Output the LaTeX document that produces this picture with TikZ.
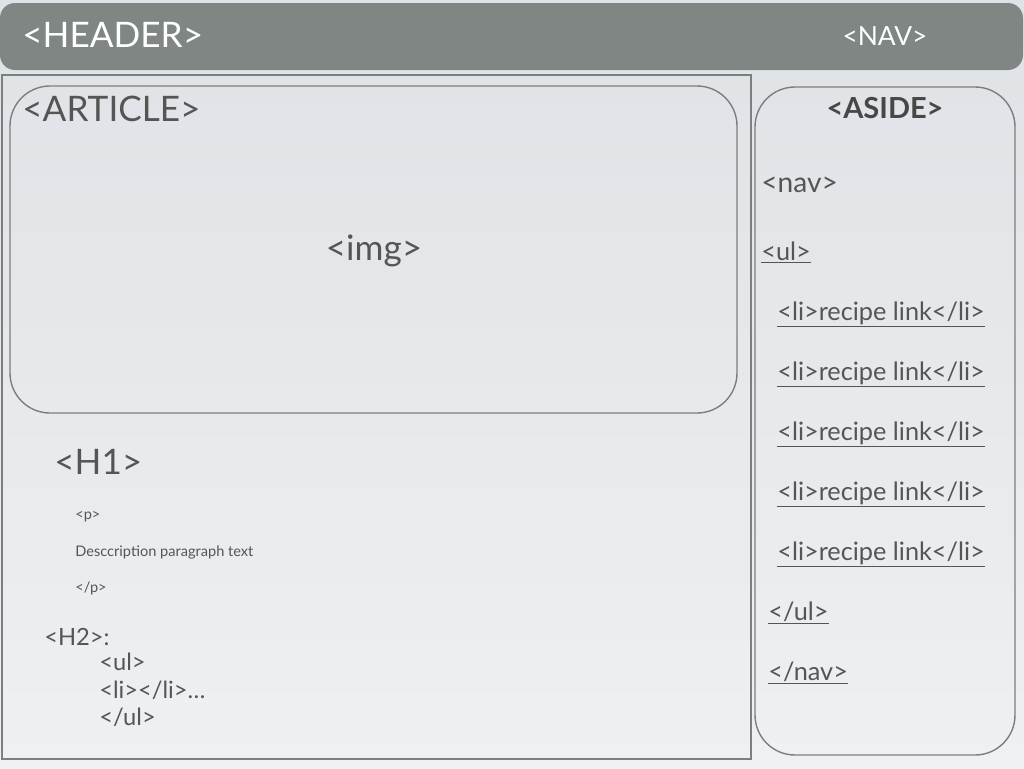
\documentclass[tikz,border=0pt]{standalone}
\usepackage{fontspec}
\setmainfont{Lato}
\definecolor{hdrgray}{HTML}{808683}
\definecolor{linegray}{HTML}{7B7F7D}
\definecolor{txtgray}{HTML}{555555}
\definecolor{bgtop}{HTML}{DFE2E6}
\definecolor{bgbot}{HTML}{EEF0F1}
\tikzset{
  lbl/.style={inner sep=0pt,text=txtgray,anchor=base west},
  huge/.style={font=\fontsize{20}{24}\selectfont},
  mid/.style={font=\fontsize{16}{19}\selectfont},
  lnk/.style={font=\fontsize{14.4}{17}\selectfont},
  small/.style={font=\fontsize{8.3}{10}\selectfont},
  lst/.style={font=\fontsize{13.5}{16}\selectfont}
}
\begin{document}
\begin{tikzpicture}[x=0.02cm,y=-0.02cm]
\shade[top color=bgtop,bottom color=bgbot] (0,0) rectangle (1024,768);
\useasboundingbox (0,0) rectangle (1024,768);

\fill[hdrgray,rounded corners=0.3cm] (0,3) rectangle (1023,70);
\node[lbl,huge,text=white] (header) at (22,47) {<HEADER>};
\node[lbl,font=\fontsize{15}{18}\selectfont,text=white,anchor=base] (navtitle) at (885,45) {<NAV>};

\draw[linegray,line width=1.2pt] (2,75) rectangle (751,759);
\draw[linegray,line width=0.8pt,rounded corners=0.8cm] (10,86) rectangle (737,413);
\node[lbl,huge] (art) at (22,121) {<ARTICLE>};
\node[lbl,huge,anchor=base] (img) at (374,260) {<img>};

\node[lbl,huge] (hone) at (54,474) {<H1>};
\node[lbl,small] (popen) at (75,519) {<p>};
\node[lbl,small] (desc) at (75,556) {Desccription paragraph text};
\node[lbl,small] (pclose) at (75,592) {</p>};
\node[lbl,lst] (htwo) at (44,645) {<H2>:};
\node[lbl,lst] (ulopen) at (99,670) {<ul>};
\node[lbl,lst] (li) at (99,698) {<li></li>\dots};
\node[lbl,lst] (ulclose) at (99,725) {</ul>};

\draw[linegray,line width=0.8pt,rounded corners=0.8cm] (755,87) rectangle (1015,755);
\node[lbl,anchor=base,text=black!72,font=\fontsize{16.5}{19}\selectfont\bfseries] (asidetitle) at (885,118) {<ASIDE>};
\node[lbl,mid] (nav) at (761,192) {<nav>};
\node[lbl,lnk] (navul) at (761,260) {\underline{<ul>}};
\foreach \i/\y in {1/320,2/380,3/440,4/500,5/560}
  \node[lbl,lnk] (link\i) at (777,\y) {\underline{<li>recipe link</li>}};
\node[lbl,lnk] (navulclose) at (768,620) {\underline{</ul>}};
\node[lbl,lnk] (navclose) at (768,680) {\underline{</nav>}};
\end{tikzpicture}
\end{document}
